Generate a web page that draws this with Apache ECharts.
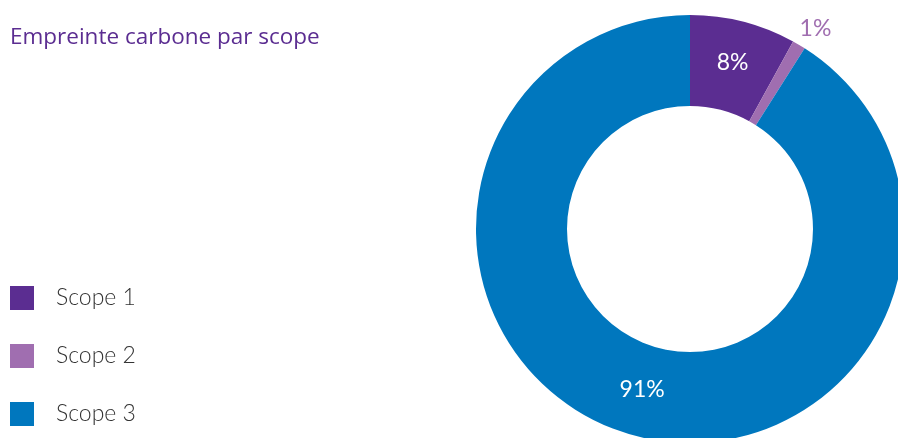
<!DOCTYPE html>
<html><head><meta charset="utf-8">
<script src="https://cdn.jsdelivr.net/npm/echarts@6/dist/echarts.min.js"></script>
<style>html,body{margin:0;padding:0;background:#fff}#c{width:898px;height:438px}</style>
</head><body><div id="c"></div>
<script>
const categories = ["Scope 1", "Scope 2", "Scope 3"];
const values = [8, 1, 91];
const colors = ["#5B2D91", "#A06EB0", "#0077BE"];
const title = "Empreinte carbone par scope";

const chart = echarts.init(document.getElementById('c'), null, {renderer: 'canvas'});
const data = categories.map((c, i) => {
  const d = {name: c, value: values[i], itemStyle: {color: colors[i]}};
  if (i === 1) {
    d.label = {position: 'outside', color: colors[i], distanceToLabelLine: -9};
    d.labelLine = {show: false, length: 19, length2: 0};
  }
  if (i === 2) {
    d.label = {offset: [0, -4]};
  }
  return d;
});
chart.setOption({
  animation: false,
  title: {text: title, left: 10, top: 26, padding: 0,
    textStyle: {fontFamily: 'Open Sans', fontSize: 22.5, fontWeight: 500, color: '#5B2D91'}},
  legend: {orient: 'vertical', left: 10, top: 286, padding: 0, itemWidth: 24, itemHeight: 24,
    itemGap: 34, icon: 'rect', data: categories,
    textStyle: {fontFamily: 'Lato', fontSize: 23, fontWeight: 300, color: '#333', padding: [0, 0, 0, 17]}},
  series: [{
    type: 'pie', center: [690, 229], radius: [123, 214], startAngle: 90, clockwise: true,
    avoidLabelOverlap: false,
    label: {show: true, position: 'inside', formatter: '{c}%', color: '#fff',
      fontFamily: 'Lato', fontSize: 23, fontWeight: 400},
    labelLine: {show: false},
    emphasis: {disabled: true},
    data: data
  }]
});
</script></body></html>
